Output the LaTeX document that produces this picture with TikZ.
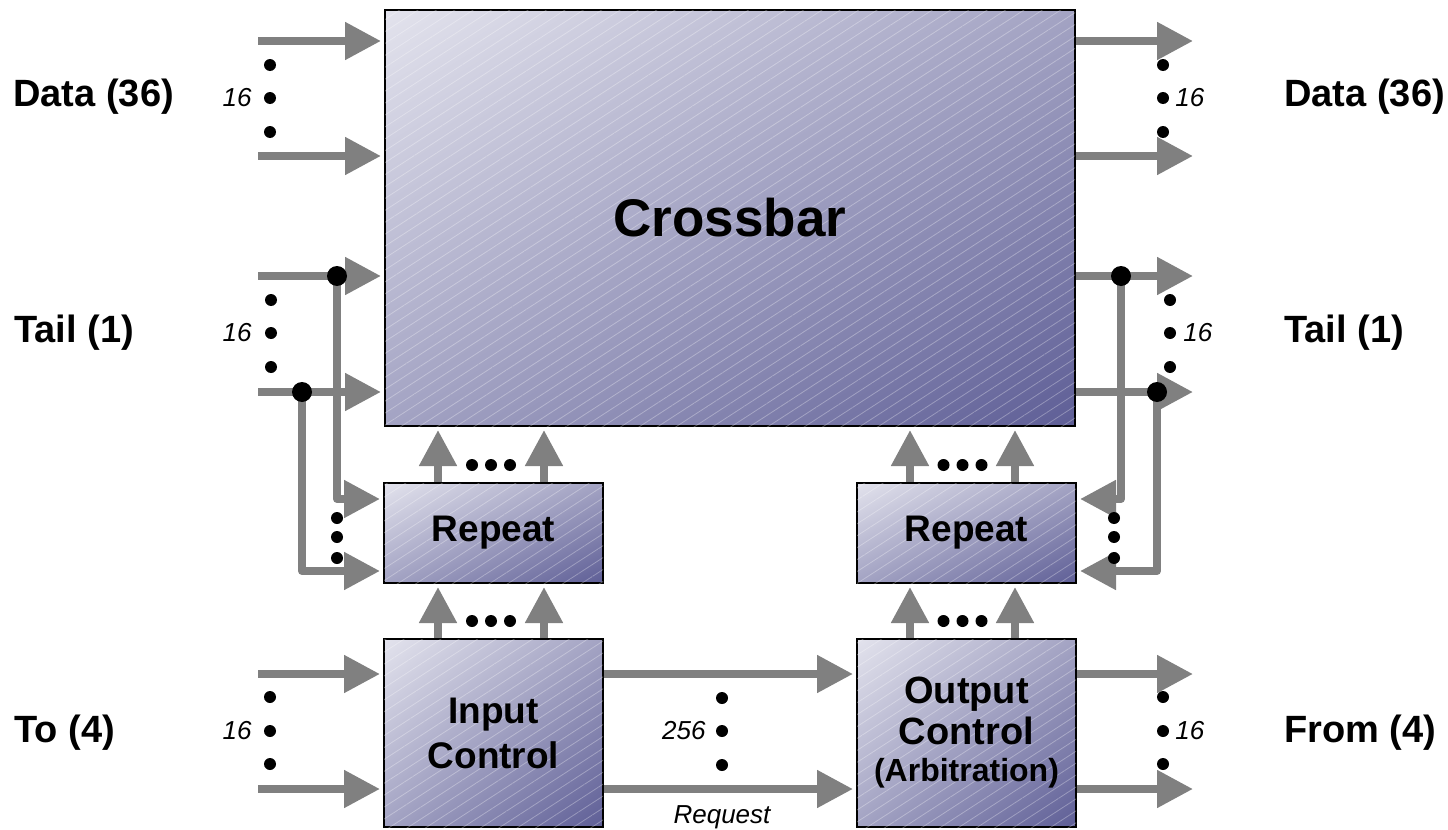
\documentclass[tikz,border=0pt]{standalone}
\usepackage{fontspec}
\setmainfont{Liberation Sans}
\usetikzlibrary{arrows.meta,patterns.meta,calc,shadings}
\definecolor{lavender}{RGB}{227, 227, 237}
\definecolor{wisteria}{RGB}{163, 163, 195}
\definecolor{amethyst}{RGB}{94, 94, 150}
\definecolor{concrete}{RGB}{128, 128, 128}
\newcommand{\blockfont}{\fontsize{18.5}{22.5}\selectfont\bfseries}
\newcommand{\countfont}{\fontsize{13}{15}\selectfont\itshape}

\begin{document}
\begin{tikzpicture}[x=0.5pt, y=-0.5pt,
        block/.style={draw=black, line width=1pt, inner sep=0pt, align=center, font=\blockfont,
                      shade, upper left=lavender, upper right=wisteria, lower left=wisteria, lower right=amethyst,
                      postaction={pattern={Lines[angle=33, distance=5pt, line width=0.4pt]}, pattern color=white, opacity=0.3}},
        bus/.style={concrete, line width=4pt, line join=round, shorten >=1.5pt, -{Triangle[length=18pt, width=18pt]}},
        sidetext/.style={anchor=west, inner sep=0pt, font=\fontsize{19}{22}\selectfont\bfseries},
        counttext/.style={inner sep=0pt, font=\countfont}]
    \useasboundingbox (0,0) rectangle (1448,830);

    \node[block, minimum width=345pt,   minimum height=208pt, font=\fontsize{26.5}{30}\selectfont\bfseries] (xbar) at (730,218) {Crossbar};
    \node[block, minimum width=109.5pt, minimum height=50pt]  (repL)   at (493.5,533) {Repeat};
    \node[block, minimum width=109.5pt, minimum height=50pt]  (repR)   at (966.5,533) {Repeat};
    \node[block, minimum width=109.5pt, minimum height=94pt]  (inCtl)  at (493.5,733) {Input\\Control};
    \node[block, minimum width=109.5pt, minimum height=94pt, font=\fontsize{19}{20.5}\selectfont\bfseries] (outCtl) at (966.5,733)
        {Output\\Control\\[-2pt]{\fontsize{16}{18}\selectfont (Arbitration)}};

    \node[sidetext] (dataIn)  at (13,97)    {Data (36)};
    \node[sidetext] (tailIn)  at (14,333)   {Tail (1)};
    \node[sidetext] (toIn)    at (14,733)   {To (4)};
    \node[sidetext] (dataOut) at (1284,97)  {Data (36)};
    \node[sidetext] (tailOut) at (1284,333) {Tail (1)};
    \node[sidetext] (fromOut) at (1284,733) {From (4)};

    \coordinate (dinA)  at (258,41);   \coordinate (dinB)  at (258,156);
    \coordinate (tinA)  at (258,276);  \coordinate (tinB)  at (258,392);
    \coordinate (toA)   at (258,674);  \coordinate (toB)   at (258,789);
    \coordinate (doutA) at (1196,41);  \coordinate (doutB) at (1196,156);
    \coordinate (toutA) at (1196,276); \coordinate (toutB) at (1196,392);
    \coordinate (fromA) at (1196,674); \coordinate (fromB) at (1196,789);
    \coordinate (jA) at (337,276);     \coordinate (jB) at (302,392);
    \coordinate (jC) at (1121,276);    \coordinate (jD) at (1157,392);
    \coordinate (rlA) at ([yshift=-8.5pt]repL.north west); \coordinate (rlB) at ([yshift=6.5pt]repL.south west);
    \coordinate (rrA) at ([yshift=-8.5pt]repR.north east); \coordinate (rrB) at ([yshift=6.5pt]repR.south east);
    \coordinate (upA) at ([xshift=27.5pt]repL.north west); \coordinate (upB) at ([xshift=-30pt]repL.north east);
    \coordinate (upC) at ([xshift=27pt]repR.north west);   \coordinate (upD) at ([xshift=-31pt]repR.north east);

    \draw[bus] (dinA) -- (dinA -| xbar.west);
    \draw[bus] (dinB) -- (dinB -| xbar.west);
    \draw[bus] (tinA) -- (tinA -| xbar.west);
    \draw[bus] (tinB) -- (tinB -| xbar.west);
    \draw[bus] (jA) |- (rlA);
    \draw[bus] (jB) |- (rlB);
    \draw[bus] (xbar.east |- doutA) -- (doutA);
    \draw[bus] (xbar.east |- doutB) -- (doutB);
    \draw[bus] (xbar.east |- toutA) -- (toutA);
    \draw[bus] (xbar.east |- toutB) -- (toutB);
    \draw[bus] (jC) |- (rrA);
    \draw[bus] (jD) |- (rrB);
    \draw[bus] (toA) -- (toA -| inCtl.west);
    \draw[bus] (toB) -- (toB -| inCtl.west);
    \draw[bus] (toA -| inCtl.east) -- (toA -| outCtl.west);
    \draw[bus] (toB -| inCtl.east) -- (toB -| outCtl.west);
    \draw[bus] (toA -| outCtl.east) -- (fromA);
    \draw[bus] (toB -| outCtl.east) -- (fromB);
    \foreach \c in {upA,upB,upC,upD} {
        \draw[bus] (\c) -- (\c |- xbar.south);
        \draw[bus] (\c |- inCtl.north) -- (\c |- repL.south);
    }

    \foreach \j in {jA,jB,jC,jD} \fill (\j) circle (5pt);
    \foreach \a/\b in {upA/upB,upC/upD} \foreach \x in {-19,0,19} {
        \fill ($(\a)!0.5!(\b)+(\x,-17)$) circle (3pt);
        \fill ($(\a |- inCtl.north)!0.5!(\b |- inCtl.north)+(\x,-17)$) circle (3pt);
    }
    \foreach \x/\y in {270/65, 270/98, 270/132, 271/300, 271/333, 271/367, 270/697, 270/731, 270/764,
                       722/698, 722/731, 722/765, 337/518, 337/537, 337/558, 1114/518, 1114/537, 1114/558,
                       1163/65, 1163/98, 1163/132, 1170/300, 1170/333, 1170/367, 1163/697, 1163/731, 1163/764}
        \fill (\x,\y) circle (3pt);

    \node[counttext, anchor=east] (nDataIn)  at (252,98)   {16};
    \node[counttext, anchor=east] (nTailIn)  at (252,333)  {16};
    \node[counttext, anchor=east] (nToIn)    at (252,731)  {16};
    \node[counttext, anchor=east] (nReq)     at (706,731)  {256};
    \node[counttext]              (request)  at (722,817)  {Request};
    \node[counttext, anchor=west] (nDataOut) at (1175,98)  {16};
    \node[counttext, anchor=west] (nTailOut) at (1183,333) {16};
    \node[counttext, anchor=west] (nFromOut) at (1175,731) {16};
\end{tikzpicture}
\end{document}
